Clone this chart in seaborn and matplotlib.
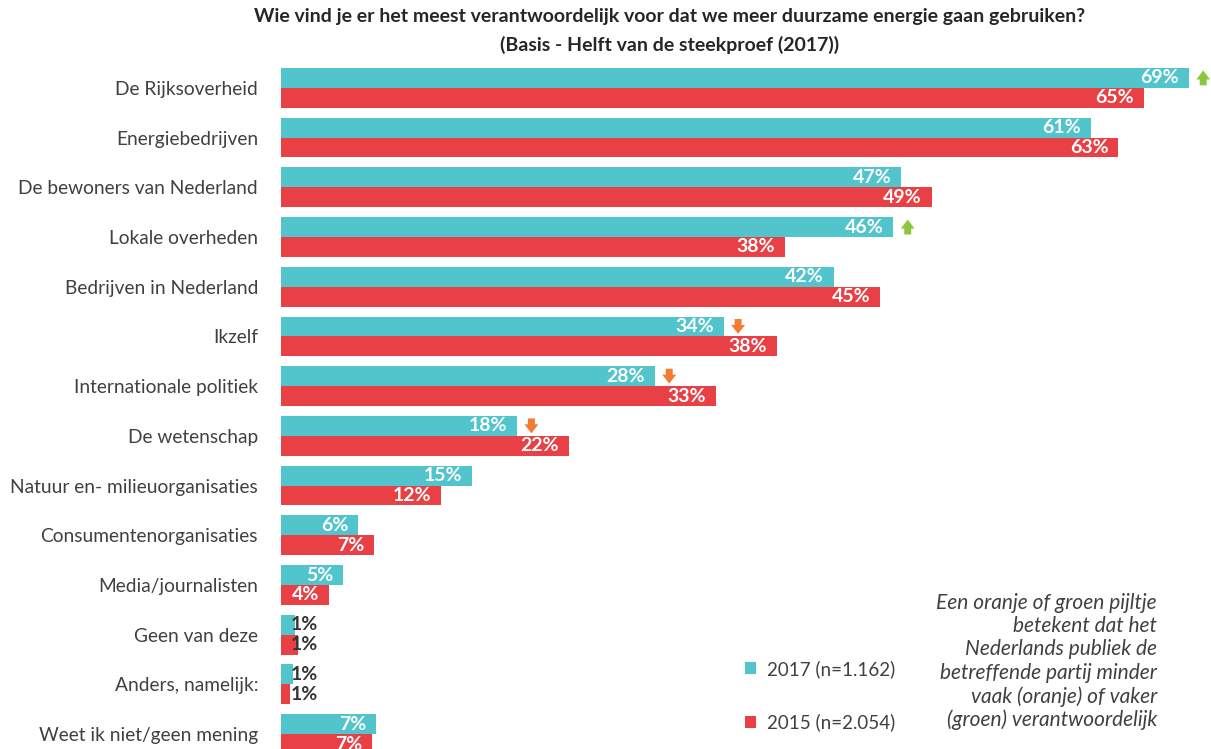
import matplotlib
matplotlib.use("Agg")
import matplotlib.pyplot as plt
import seaborn as sns
import pandas as pd

# data
categories = [
    "De Rijksoverheid", "Energiebedrijven", "De bewoners van Nederland",
    "Lokale overheden", "Bedrijven in Nederland", "Ikzelf",
    "Internationale politiek", "De wetenschap", "Natuur en- milieuorganisaties",
    "Consumentenorganisaties", "Media/journalisten", "Geen van deze",
    "Anders, namelijk:", "Weet ik niet/geen mening",
]
vals_2017 = [68.5, 61.1, 46.8, 46.2, 41.7, 33.4, 28.2, 17.8, 14.4, 5.8, 4.7, 1.05, 0.9, 7.2]
vals_2015 = [65.1, 63.2, 49.1, 38.0, 45.2, 37.4, 32.8, 21.7, 12.1, 7.0, 3.6, 1.3, 0.7, 6.9]
labels_2017 = [69, 61, 47, 46, 42, 34, 28, 18, 15, 6, 5, 1, 1, 7]
labels_2015 = [65, 63, 49, 38, 45, 38, 33, 22, 12, 7, 4, 1, 1, 7]
# change arrow shown next to the 2017 bar
arrows = ["up", "", "", "up", "", "down", "down", "down", "", "", "", "", "", ""]
years = ["2017 (n=1.162)", "2015 (n=2.054)"]

title = ("Wie vind je er het meest verantwoordelijk voor dat we meer duurzame energie gaan gebruiken?\n"
         "(Basis - Helft van de steekproef (2017))")
note = ("Een oranje of groen pijltje\nbetekent dat het\nNederlands publiek de\n"
        "betreffende partij minder\nvaak (oranje) of vaker\n(groen) verantwoordelijk")

df = pd.DataFrame({
    "categorie": categories * 2,
    "waarde": vals_2017 + vals_2015,
    "jaar": [years[0]] * len(categories) + [years[1]] * len(categories),
})

teal = "#52C4CB"
red = "#E84045"
txt = "#404040"

sns.set_style("white")
plt.rcParams["font.family"] = ["Lato", "DejaVu Sans"]

fig = plt.figure(figsize=(12.11, 7.49), dpi=100)
ax = fig.add_axes([281 / 1211, 0, 930 / 1211, 684 / 749])

sns.barplot(data=df, y="categorie", x="waarde", hue="jaar", orient="h",
            palette=[teal, red], saturation=1, width=0.8, linewidth=0, ax=ax, legend=True)

ax.set_xlim(0, 930 / 13.25)
ax.set_ylim(13.3, -0.46)
sns.despine(ax=ax, left=True, bottom=True)
ax.set_xticks([])
ax.set_xlabel("")
ax.set_ylabel("")
ax.tick_params(axis="y", length=0, pad=16.5, labelsize=13.8, labelcolor=txt)

# value labels
for i in range(len(categories)):
    for v, lab, off in [(vals_2017[i], labels_2017[i], -0.2), (vals_2015[i], labels_2015[i], 0.2)]:
        y = i + off
        if v < 3:
            ax.text(0.75, y, f"{lab}%", ha="left", va="center", fontsize=14,
                    fontweight="bold", color="#333333")
        else:
            ax.annotate(f"{lab}%", (v, y), xytext=(-7, 0), textcoords="offset points",
                        ha="right", va="center", fontsize=14, fontweight="bold", color="white")

# arrows
for i, d in enumerate(arrows):
    if not d:
        continue
    x = vals_2017[i] + 1.1
    y = i - 0.2
    if d == "up":
        start, end, col = (x, y + 0.15), (x, y - 0.15), "#8CC63F"
    else:
        start, end, col = (x, y - 0.15), (x, y + 0.15), "#F37B32"
    ax.annotate("", xy=end, xytext=start,
                arrowprops=dict(arrowstyle="simple,head_length=0.65,head_width=1.0,tail_width=0.5",
                                color=col, lw=0, shrinkA=0, shrinkB=0),
                annotation_clip=False)

leg = ax.legend(loc="upper left", bbox_to_anchor=(728 / 1211, 1 - 643 / 749),
                bbox_transform=fig.transFigure, frameon=False, fontsize=13.5,
                handlelength=0.6, handleheight=0.6, handletextpad=0.6, labelspacing=1.9)
for t in leg.get_texts():
    t.set_color(txt)

fig.text(670 / 1211, 1 - 8 / 749, title, ha="center", va="top", fontsize=14,
         fontweight="bold", color="#262626", linespacing=1.7)
fig.text(1157 / 1211, 1 - 593 / 749, note, ha="right", va="top", fontsize=15,
         style="italic", color=txt, linespacing=1.2)

fig.savefig("out.png", dpi=100)
